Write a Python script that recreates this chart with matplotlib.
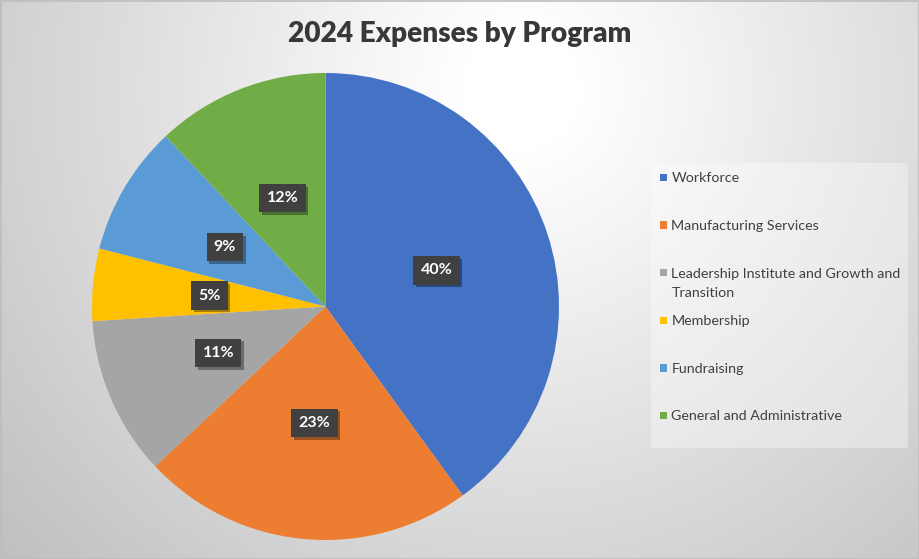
import numpy as np
import matplotlib.pyplot as plt
from matplotlib.patches import Rectangle
import matplotlib.patheffects as pe

# chart data
programs = ["Workforce", "Manufacturing Services",
            "Leadership Institute and Growth and Transition",
            "Membership", "Fundraising", "General and Administrative"]
legend_labels = ["Workforce", "Manufacturing Services",
                 "Leadership Institute and Growth and\nTransition",
                 "Membership", "Fundraising", "General and Administrative"]
shares = [40, 23, 11, 5, 9, 12]
colors = ["#4472C4", "#ED7D31", "#A5A5A5", "#FFC000", "#5B9BD5", "#70AD47"]

plt.rcParams['font.family'] = ['Lato', 'DejaVu Sans']

W, H = 920, 559
fig = plt.figure(figsize=(W / 100, H / 100), dpi=100)

# radial grey background
bg = fig.add_axes([0, 0, 1, 1])
yy, xx = np.mgrid[0:H, 0:W]
r = np.hypot(xx - 520, yy - 90)
val = np.clip(1 - (r - 60) / 640, 0, 1)
lo, hi = 0.75, 1.0
img = lo + (hi - lo) * val
bg.imshow(np.dstack([img, img, img]), extent=[0, W, H, 0], aspect='auto')
bg.set_xlim(0, W)
bg.set_ylim(H, 0)
bg.axis('off')
bg.add_patch(Rectangle((0.5, 0.5), W - 1, H - 1, fill=False, edgecolor='#bdbdbd', lw=1.2))

# title
fig.text(460 / W, 1 - 34 / H, "2024 Expenses by Program", ha='center', va='center',
         fontsize=20.2, fontweight='heavy', color='#383838')

# pie
cx, cy, rad = 325.5, 306.5, 233.5
ax = fig.add_axes([(cx - rad) / W, 1 - (cy + rad) / H, 2 * rad / W, 2 * rad / H])
wedges, texts = ax.pie(shares, colors=colors, startangle=90, counterclock=False,
                       radius=1, labels=[f"{s}%" for s in shares], labeldistance=0.5,
                       wedgeprops=dict(linewidth=0))
for t in texts:
    t.set_ha('center')
    t.set_va('center')
    t.set_color('white')
    t.set_fontweight('bold')
    t.set_fontsize(11.5)
    t.set_bbox(dict(boxstyle='square,pad=0.45', facecolor='#404040', edgecolor='none'))
    t.get_bbox_patch().set_path_effects([
        pe.SimplePatchShadow(offset=(2, -2), shadow_rgbFace='black', alpha=0.35),
        pe.Normal()])
ax.set_xlim(-1, 1)
ax.set_ylim(-1, 1)
ax.set_aspect('equal')
ax.axis('off')

# legend panel
bg.add_patch(Rectangle((651, 163), 257, 285, facecolor='white', alpha=0.35, edgecolor='none'))
y0, step = 177.5, 47.6
for i, (lab, col) in enumerate(zip(legend_labels, colors)):
    y = y0 + i * step
    bg.add_patch(Rectangle((660, y - 3.7), 7.4, 7.4, facecolor=col, edgecolor='none'))
    bg.text(671.5, y - 5, lab, ha='left', va='top', fontsize=10.3,
            color='#404040', linespacing=1.75)

fig.savefig("out.png", dpi=100)
